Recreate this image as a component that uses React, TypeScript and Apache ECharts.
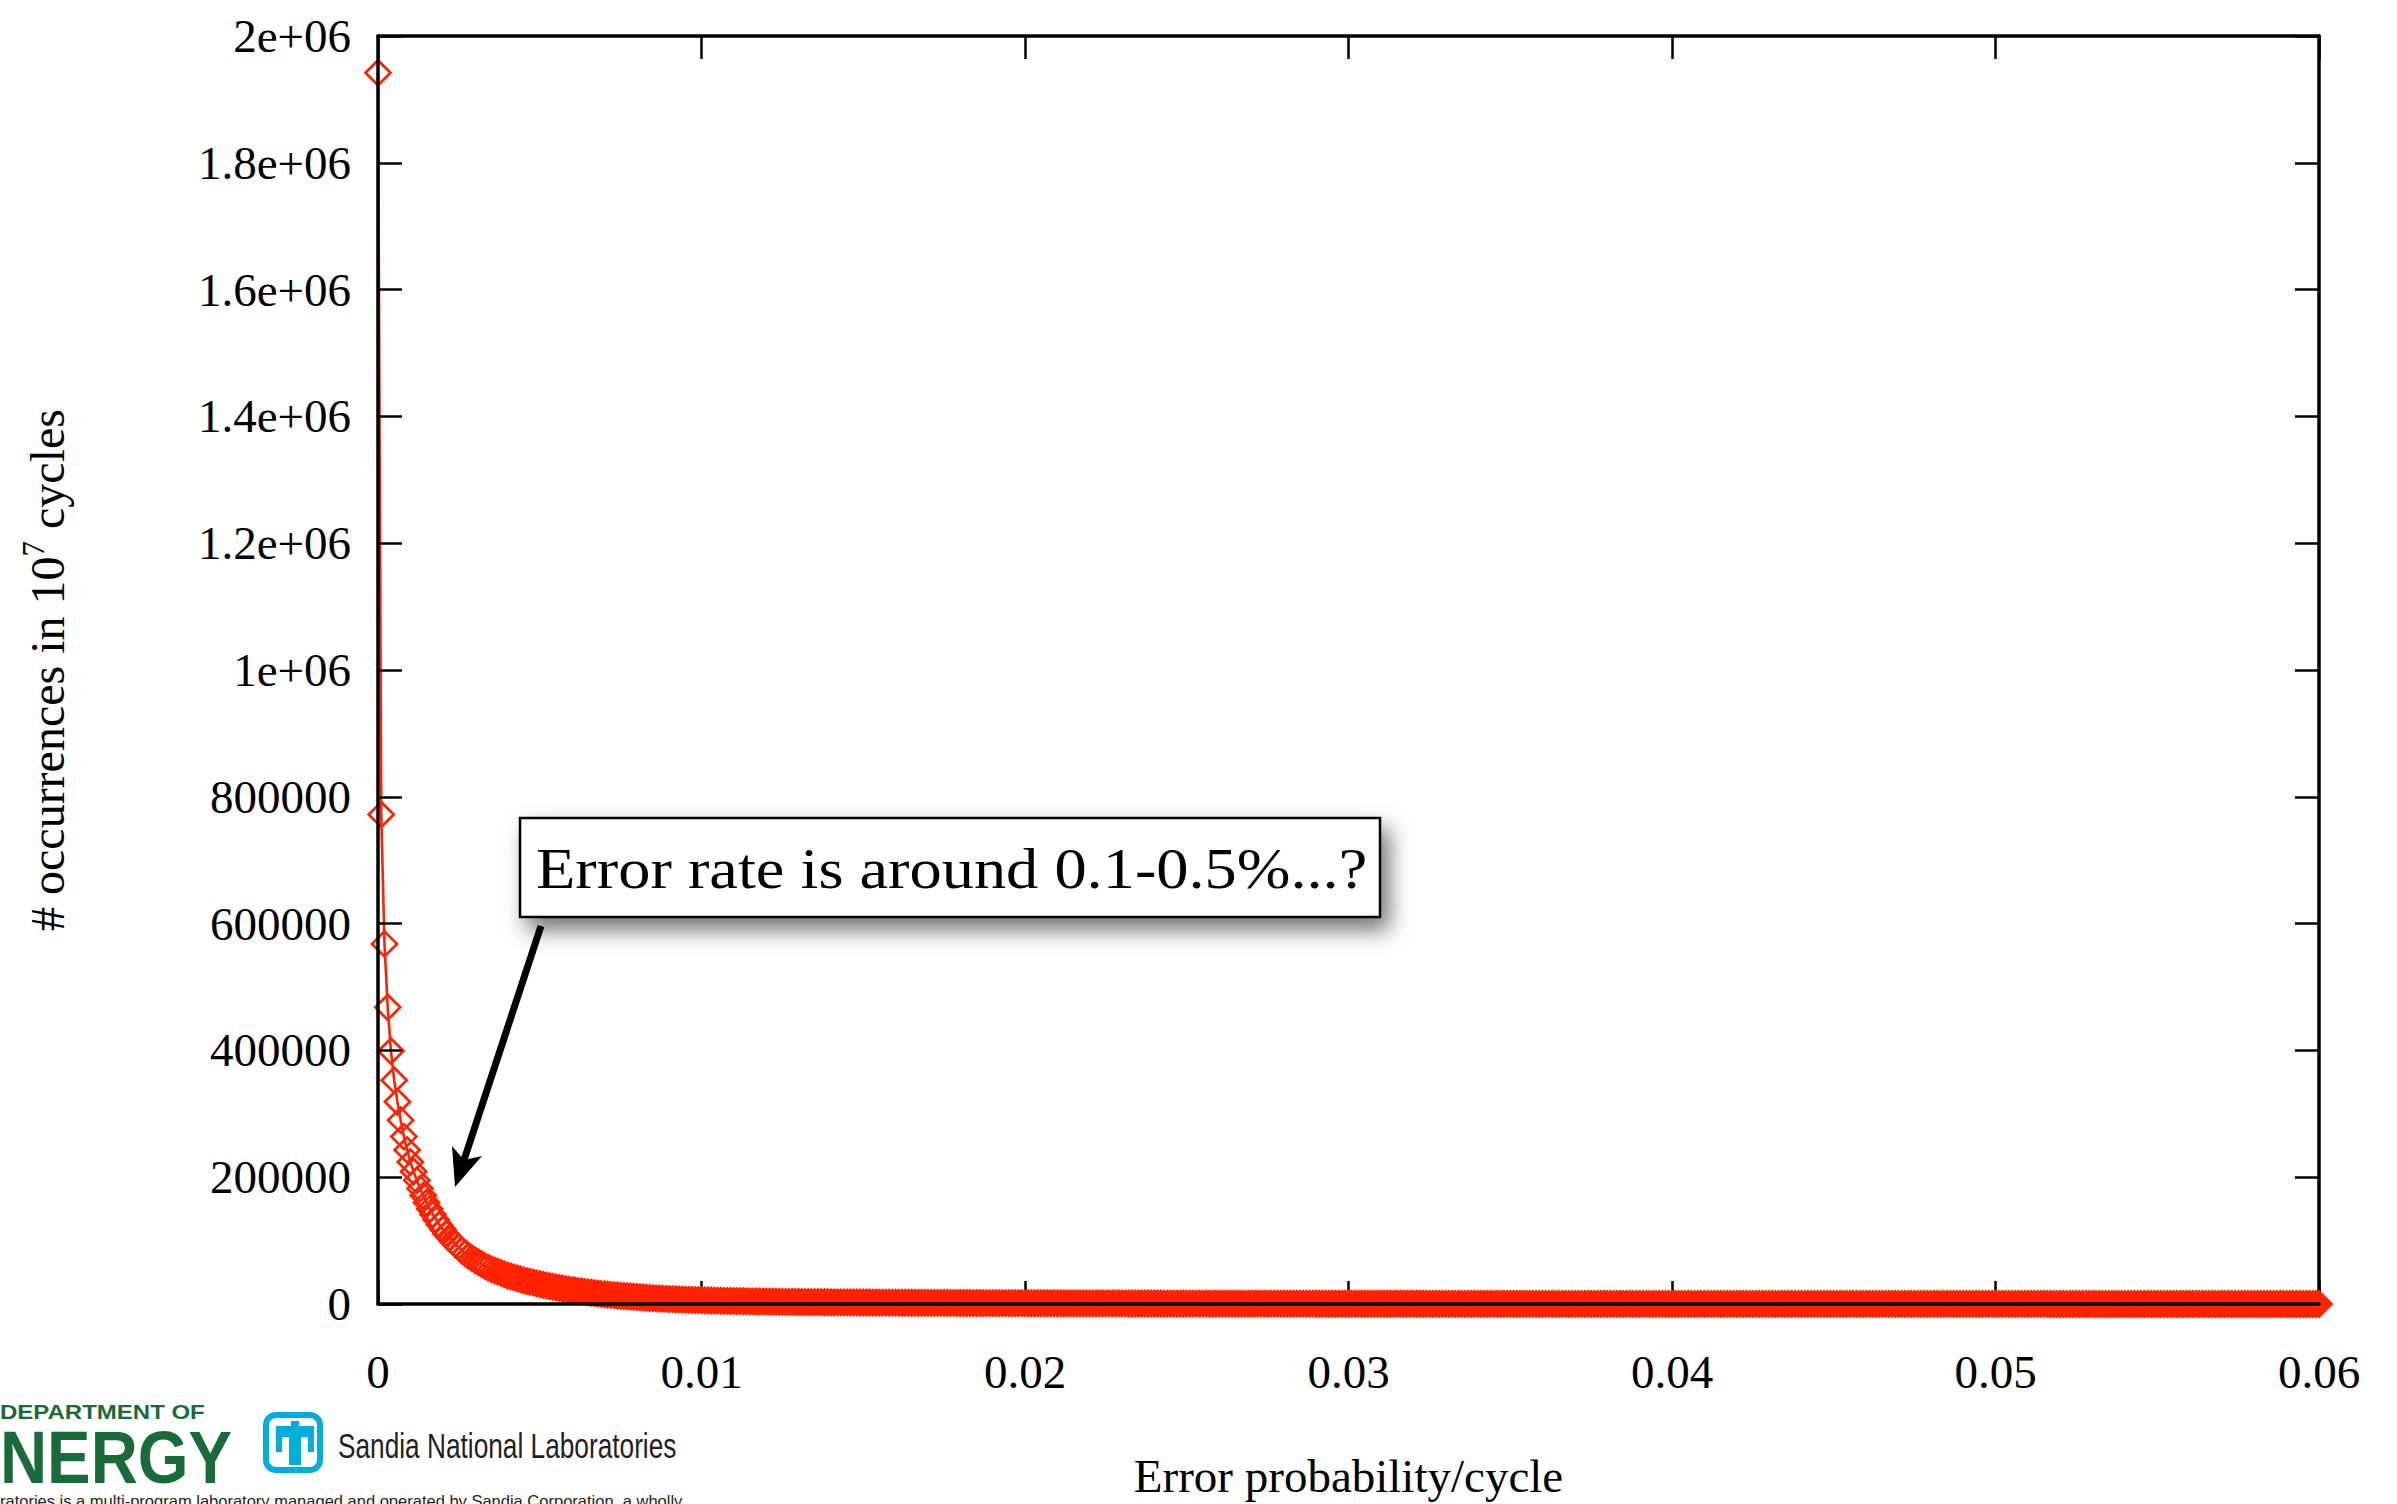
import React, { useEffect, useRef } from 'react';
import * as echarts from 'echarts';

// Histogram of simulated error probability per cycle: one point every 0.0001.
const X_STEP = 0.0001;

// # occurrences in 10^7 cycles, one value per X_STEP starting at 0.
const OCCURRENCES: number[] = [
  1942000, 772000, 568000, 468000, 399000, 353000, 319000, 290000, 264000, 243000, 224000, 209000, 195000, 182000, 171000, 160000, 150000, 141000, 133000, 125000,
  118000, 111000, 105000, 99000, 94000, 89000, 84000, 80000, 76000, 72500, 69000, 66000, 63000, 60000, 57500, 55000, 53000, 51000, 49000, 47000,
  45000, 43500, 42000, 40500, 39000, 37500, 36200, 35000, 33800, 32600, 31500, 30300, 29200, 28200, 27200, 26200, 25300, 24400, 23600, 22800,
  22000, 21200, 20400, 19700, 19000, 18300, 17700, 17100, 16500, 15900, 15400, 14900, 14400, 13900, 13400, 13000, 12600, 12200, 11800, 11400,
  11000, 10600, 10200, 9850, 9500, 9200, 8900, 8600, 8350, 8100, 7850, 7600, 7400, 7200, 7000, 6800, 6600, 6400, 6250, 6100,
  5950, 5800, 5650, 5500, 5370, 5240, 5110, 4990, 4870, 4760, 4650, 4540, 4440, 4340, 4250, 4160, 4070, 3990, 3910, 3830,
  3750, 3680, 3610, 3540, 3480, 3420, 3360, 3300, 3240, 3190, 3140, 3090, 3040, 2990, 2940, 2900, 2860, 2820, 2780, 2740,
  2700, 2660, 2620, 2590, 2560, 2530, 2500, 2470, 2440, 2410, 2380, 2350, 2320, 2290, 2260, 2230, 2200, 2170, 2140, 2110,
  2080, 2050, 2020, 1995, 1970, 1945, 1920, 1895, 1870, 1845, 1820, 1795, 1770, 1745, 1720, 1700, 1680, 1660, 1640, 1620,
  1600, 1580, 1560, 1540, 1520, 1500, 1480, 1460, 1440, 1420, 1400, 1385, 1370, 1355, 1340, 1325, 1310, 1295, 1280, 1265,
  1250, 1235, 1220, 1205, 1190, 1175, 1160, 1145, 1130, 1115, 1100, 1088, 1076, 1064, 1052, 1040, 1028, 1016, 1004, 992,
  980, 968, 956, 944, 932, 920, 908, 896, 885, 874, 863, 852, 841, 830, 820, 810, 800, 790, 780, 770,
  760, 750, 741, 732, 723, 714, 705, 696, 688, 680, 672, 664, 656, 648, 640, 633, 626, 619, 612, 605,
  598, 591, 585, 579, 573, 567, 561, 555, 549, 543, 537, 531, 526, 521, 516, 511, 506, 501, 496, 491,
  486, 481, 477, 473, 469, 465, 461, 457, 453, 449, 445, 441, 437, 433, 429, 425, 421, 418, 415, 412,
  409, 406, 403, 400, 397, 394, 391, 388, 385, 382, 379, 376, 373, 370, 367, 364, 361, 358, 356, 354,
  352, 350, 347, 344, 341, 338, 335, 332, 330, 328, 326, 324, 321, 318, 315, 312, 310, 308, 306, 304,
  302, 300, 298, 296, 294, 292, 290, 288, 286, 284, 282, 280, 278, 276, 274, 272, 270, 268, 266, 264,
  262, 260, 258, 256, 254, 252, 250, 248, 247, 246, 244, 242, 240, 238, 236, 234, 232, 231, 230, 228,
  226, 224, 222, 220, 219, 218, 216, 214, 212, 210, 209, 208, 206, 204, 202, 201, 200, 198, 196, 194,
  193, 192, 190, 188, 187, 186, 184, 182, 181, 180, 178, 176, 175, 174, 172, 170, 169, 168, 166, 164,
  163, 162, 160, 158, 157, 156, 154, 152, 151, 150, 148, 146, 145, 144, 142, 141, 140, 138, 137, 136,
  134, 133, 132, 130, 129, 128, 126, 125, 124, 122, 121, 120, 118, 117, 116, 115, 114, 112, 111, 110,
  109, 108, 106, 105, 104, 103, 102, 100, 99, 98, 97, 96, 95, 94, 93, 92, 91, 90, 89, 88,
  87, 86, 85, 84, 83, 82, 81, 80, 79, 78, 77, 76, 75, 74, 73, 72, 71, 70, 70, 69,
  68, 67, 66, 65, 64, 64, 63, 62, 61, 60, 60, 59, 58, 57, 56, 56, 55, 54, 53, 53,
  52, 51, 50, 50, 49, 48, 48, 47, 46, 46, 45, 44, 44, 43, 42, 42, 41, 40, 40, 39,
  39, 38, 37, 37, 36, 36, 35, 35, 34, 33, 33, 32, 32, 31, 31, 30, 30, 29, 29, 28,
  28, 27, 27, 26, 26, 25, 25, 25, 24, 24, 23, 23, 22, 22, 22, 21, 21, 20, 20, 20,
  19, 19, 19, 18, 18, 18, 17, 17, 17, 16, 16, 16, 15, 15, 15, 14, 14, 14, 14, 13,
  13,
];

const X_TICK_LABELS = ['0', '0.01', '0.02', '0.03', '0.04', '0.05', '0.06'];
const Y_TICK_LABELS = [
  '0', '200000', '400000', '600000', '800000', '1e+06',
  '1.2e+06', '1.4e+06', '1.6e+06', '1.8e+06', '2e+06',
];
const X_INTERVAL = 0.01;
const Y_INTERVAL = 200000;

const X_TITLE = 'Error probability/cycle';
const Y_TITLE = '# occurrences in 10{sup|7} cycles';
const NOTE = 'Error rate is around 0.1-0.5%...?';

const SERIF = "'Liberation Serif', 'Times New Roman', serif";
const SANS = "'Liberation Sans', Arial, sans-serif";
const RED = '#ff2200';
const DOE_GREEN = '#1a6b3a';
const SANDIA_CYAN = '#00aedb';

export default function App() {
  const ref = useRef<HTMLDivElement>(null);

  useEffect(() => {
    document.body.style.margin = '0';
    document.body.style.overflow = 'hidden';
    const chart = echarts.init(ref.current!, null, { renderer: 'svg', width: 2397, height: 1504 });

    const points = OCCURRENCES.map((v, i) => [Number((i * X_STEP).toFixed(4)), v]);

    const xRange = { type: 'value' as const, min: 0, max: 0.06, interval: X_INTERVAL };
    const yRange = { type: 'value' as const, min: 0, max: 2000000, interval: Y_INTERVAL };
    const frameLine = { show: true, onZero: false, lineStyle: { color: '#000', width: 3.5 } };
    const innerTick = (length: number) => ({
      show: true, inside: true, length, lineStyle: { color: '#000', width: 2.5 },
    });
    const tickFont = { color: '#000', fontSize: 47, fontFamily: SERIF };

    chart.setOption({
      animation: false,
      backgroundColor: '#fff',
      grid: { left: 378, right: 78, top: 36, bottom: 200, containLabel: false, outerBoundsMode: 'none' },
      xAxis: [
        {
          ...xRange,
          position: 'bottom',
          z: 5,
          axisLine: frameLine,
          axisTick: { show: false },
          splitLine: { show: false },
          axisLabel: {
            ...tickFont,
            margin: 44,
            showMinLabel: true,
            showMaxLabel: true,
            formatter: (v: number) => X_TICK_LABELS[Math.round(v / X_INTERVAL)] ?? '',
          },
          name: X_TITLE,
          nameLocation: 'middle',
          nameGap: 148,
          nameTextStyle: { color: '#000', fontSize: 47, fontFamily: SERIF },
        },
        {
          ...xRange,
          position: 'top',
          axisLine: frameLine,
          axisTick: innerTick(23),
          axisLabel: { show: false },
          splitLine: { show: false },
        },
        {
          // bottom ticks sit beneath the data band
          ...xRange,
          position: 'bottom',
          z: 0,
          axisLine: { show: false },
          axisTick: innerTick(23),
          axisLabel: { show: false },
          splitLine: { show: false },
        },
      ],
      yAxis: [
        {
          ...yRange,
          position: 'left',
          z: 5,
          axisLine: frameLine,
          axisTick: innerTick(24),
          splitLine: { show: false },
          axisLabel: {
            ...tickFont,
            margin: 27,
            showMinLabel: true,
            showMaxLabel: true,
            formatter: (v: number) => Y_TICK_LABELS[Math.round(v / Y_INTERVAL)] ?? '',
          },
          name: Y_TITLE,
          nameLocation: 'middle',
          nameRotate: 90,
          nameGap: 302,
          nameTextStyle: {
            color: '#000',
            fontSize: 48,
            fontFamily: SERIF,
            lineHeight: 58,
            rich: {
              sup: { fontSize: 31, fontFamily: SERIF, color: '#000', verticalAlign: 'top', lineHeight: 34 },
            },
          },
        },
        {
          ...yRange,
          position: 'right',
          axisLine: frameLine,
          axisTick: innerTick(24),
          axisLabel: { show: false },
          splitLine: { show: false },
        },
      ],
      series: [
        {
          type: 'line',
          xAxisIndex: 0,
          yAxisIndex: 0,
          data: points,
          symbol: 'diamond',
          symbolSize: 25,
          showAllSymbol: true,
          clip: false,
          silent: true,
          z: 2,
          lineStyle: { color: RED, width: 2.6 },
          itemStyle: { color: 'rgba(0,0,0,0)', borderColor: RED, borderWidth: 2.7 },
          emphasis: { disabled: true },
        },
      ],
      graphic: [
        // annotation box with drop shadow
        {
          type: 'rect',
          z: 20,
          shape: { x: 520, y: 818, width: 860, height: 99 },
          style: {
            fill: '#fff', stroke: '#000', lineWidth: 2.5,
            shadowBlur: 22, shadowOffsetX: 8, shadowOffsetY: 12, shadowColor: 'rgba(0,0,0,0.55)',
          },
        },
        {
          type: 'text',
          z: 21,
          x: 536,
          y: 869,
          scaleX: 1.15,
          style: { text: NOTE, fontSize: 56, fontFamily: SERIF, fill: '#000', align: 'left', verticalAlign: 'middle' },
        },
        // arrow pointing at the knee of the curve
        {
          type: 'line',
          z: 19,
          shape: { x1: 541, y1: 926, x2: 464, y2: 1160 },
          style: { stroke: '#000', lineWidth: 7 },
        },
        {
          type: 'polygon',
          z: 19,
          shape: { points: [[455, 1187], [482, 1156], [464, 1160], [452, 1146]] },
          style: { fill: '#000' },
        },
        // sponsor logos along the bottom-left edge
        {
          type: 'text',
          x: 0,
          y: 1402,
          scaleX: 1.2,
          style: { text: 'DEPARTMENT OF', fontSize: 20, fontWeight: 'bold', fontFamily: SANS, fill: DOE_GREEN, align: 'left', verticalAlign: 'top' },
        },
        {
          type: 'text',
          x: 0,
          y: 1419,
          scaleX: 0.87,
          style: { text: 'NERGY', fontSize: 75, fontWeight: 'bold', fontFamily: SANS, fill: DOE_GREEN, align: 'left', verticalAlign: 'top' },
        },
        {
          type: 'rect',
          shape: { x: 266, y: 1415, width: 54, height: 55, r: 10 },
          style: { fill: '#fff', stroke: SANDIA_CYAN, lineWidth: 6 },
        },
        {
          type: 'polygon',
          shape: {
            points: [
              [291, 1421], [299, 1421], [299, 1426], [314, 1426], [314, 1452], [308, 1452], [308, 1437],
              [301, 1437], [301, 1465], [289, 1465], [289, 1437], [282, 1437], [282, 1452], [276, 1452],
              [276, 1426], [291, 1426],
            ],
          },
          style: { fill: SANDIA_CYAN },
        },
        {
          type: 'text',
          x: 338,
          y: 1446,
          scaleX: 0.75,
          style: { text: 'Sandia National Laboratories', fontSize: 35, fontFamily: SANS, fill: '#231f20', align: 'left', verticalAlign: 'middle' },
        },
        {
          type: 'text',
          x: 0,
          y: 1492,
          style: {
            text: 'ratories is a multi-program laboratory managed and operated by Sandia Corporation, a wholly',
            fontSize: 16.5, fontFamily: SANS, fill: '#222', align: 'left', verticalAlign: 'top',
          },
        },
      ],
    });

    return () => chart.dispose();
  }, []);

  return <div ref={ref} style={{ width: 2397, height: 1504 }} />;
}
